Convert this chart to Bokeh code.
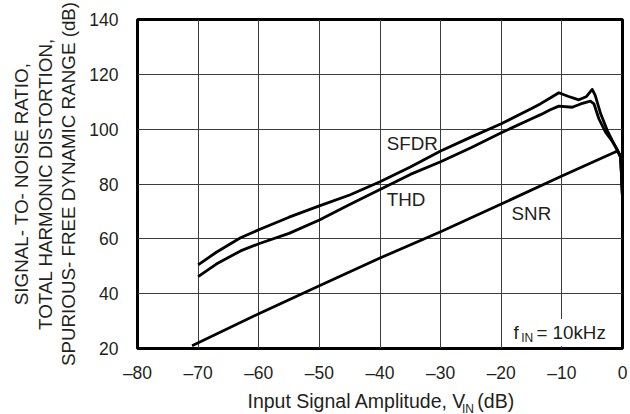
from bokeh.plotting import figure
from bokeh.models import Range1d, FixedTicker, Label, LinearAxis
from bokeh.embed import file_html
from bokeh.resources import INLINE

# ---------------- data ----------------
x_ticks = [-80, -70, -60, -50, -40, -30, -20, -10, 0]
x_tick_labels = ["\u201380", "\u201370", "\u201360", "\u201350", "\u201340",
                 "\u201330", "\u201320", "\u201310", "0"]
y_ticks = [20, 40, 60, 80, 100, 120, 140]

sfdr_x = [-70, -67, -63, -60, -55, -50, -45, -40, -35, -30, -25, -20, -15,
          -13.5, -12, -10.5, -9, -7.2, -6, -5, -4.5, -3.6, -2.5, -1.7, -0.8,
          -0.3, 0]
sfdr_y = [50.5, 55.1, 60.4, 63.3, 67.9, 72.0, 76.0, 80.8, 86.2, 92.0, 97.1,
          102.0, 107.5, 109.3, 111.3, 113.3, 112.0, 110.7, 111.8, 114.5,
          112.3, 105.6, 99.5, 95.9, 92.2, 89.8, 75.0]

thd_x = [-70, -67, -63, -60, -55, -50, -45, -40, -35, -30, -25, -20, -15,
         -13.5, -12, -10.5, -8.3, -6.9, -5.3, -4.7, -3.9, -2.8, -1.7, -0.8,
         -0.3, 0]
thd_y = [46.2, 50.8, 55.6, 58.2, 62.0, 66.9, 72.5, 78.0, 83.5, 88.1, 93.2,
         98.7, 103.8, 105.3, 107.0, 108.4, 108.0, 109.2, 110.2, 109.2, 103.8,
         98.9, 95.6, 92.2, 89.8, 75.0]

snr_x = [-71, -60, -50, -40, -30, -20, -10, -1.2, -0.8, -0.3, 0]
snr_y = [21.0, 32.7, 42.9, 53.0, 62.6, 72.7, 82.9, 91.7, 92.0, 89.8, 75.0]

y_title_lines = ["SIGNAL- TO- NOISE RATIO,",
                 "TOTAL HARMONIC DISTORTION,",
                 "SPURIOUS- FREE DYNAMIC RANGE (dB)"]
x_title_main = "Input Signal Amplitude, V"
x_title_sub = "IN"
x_title_unit = "(dB)"

FONT = "Liberation Sans"
TXT = "#231f20"
BIG = "18.8px"

p = figure(frame_width=485, frame_height=329,
           x_range=Range1d(-80, 0), y_range=Range1d(20, 140),
           output_backend="svg", toolbar_location=None,
           min_border_left=137, min_border_right=6,
           min_border_top=19, min_border_bottom=50)

p.background_fill_color = "white"
p.border_fill_color = "white"
p.outline_line_color = "black"
p.outline_line_width = 3

p.xaxis.ticker = FixedTicker(ticks=x_ticks)
p.yaxis.ticker = FixedTicker(ticks=y_ticks)
p.xaxis.major_label_overrides = {t: s for t, s in zip(x_ticks, x_tick_labels)}


def style_axis(ax, size="17.5px"):
    ax.axis_line_color = None
    ax.major_tick_line_color = None
    ax.minor_tick_line_color = None
    ax.major_tick_out = 0
    ax.major_tick_in = 0
    ax.minor_tick_out = 0
    ax.minor_tick_in = 0
    ax.major_label_text_font = FONT
    ax.major_label_text_font_size = size
    ax.major_label_text_color = TXT
    ax.axis_label_text_font = FONT
    ax.axis_label_text_font_size = BIG
    ax.axis_label_text_font_style = "normal"
    ax.axis_label_text_color = TXT


for ax in p.axis:
    style_axis(ax)
p.yaxis.major_label_standoff = 19
p.xaxis.major_label_standoff = 14

# y-axis title: three stacked lines
p.yaxis.axis_label = y_title_lines[2]
p.yaxis.axis_label_standoff = 7
for t in (y_title_lines[1], y_title_lines[0]):
    ax = LinearAxis(ticker=FixedTicker(ticks=[]), axis_label=t)
    style_axis(ax)
    ax.major_label_standoff = 0
    ax.axis_label_standoff = 0
    p.add_layout(ax, "left")

# x-axis title: main text + unit, then subscript on a lower row
ax_t = LinearAxis(ticker=FixedTicker(ticks=[-43.8, -20.9]),
                  major_label_overrides={-43.8: x_title_main,
                                         -20.9: x_title_unit})
style_axis(ax_t, "19.5px")
ax_t.major_label_standoff = 4
p.add_layout(ax_t, "below")

ax_s = LinearAxis(ticker=FixedTicker(ticks=[-25.5]),
                  major_label_overrides={-25.5: x_title_sub})
style_axis(ax_s, "12px")
ax_s.major_label_standoff = -13
p.add_layout(ax_s, "below")

p.grid.grid_line_color = "#3c3c3c"
p.grid.grid_line_width = 1

for xs, ys in ((sfdr_x, sfdr_y), (thd_x, thd_y), (snr_x, snr_y)):
    p.line(xs, ys, line_color="black", line_width=2.8, line_join="round")


def lab(x, y, text, size=BIG, **kw):
    p.add_layout(Label(x=x, y=y, text=text, text_font=FONT,
                       text_font_size=size, text_color=TXT,
                       text_baseline="middle", **kw))


# curve labels
lab(-38.9, 94.9, "SFDR")
lab(-38.9, 74.2, "THD")
lab(-18.3, 69.2, "SNR")

# f_IN annotation
lab(-14.7, 25.8, "= 10kHz", background_fill_color="white", padding=3)
lab(-18.0, 25.8, "f")
lab(-16.7, 23.8, "IN", size="12px")

open("out.html", "w").write(file_html(p, INLINE))
